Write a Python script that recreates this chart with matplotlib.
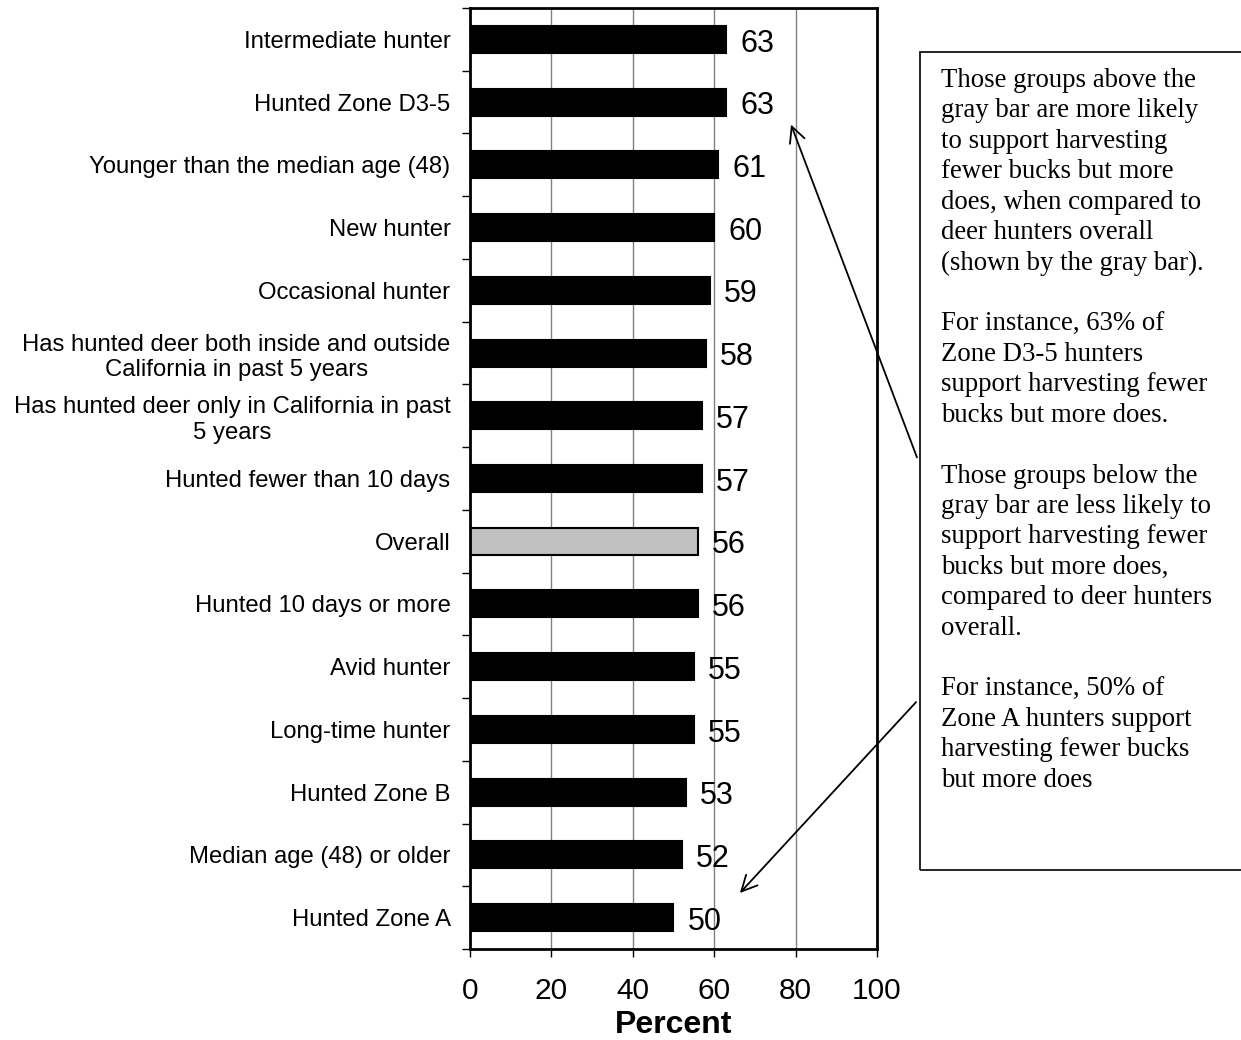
import numpy as np
import matplotlib.pyplot as plt
from matplotlib.patches import Rectangle

# data, top to bottom as in the chart
groups = ['Intermediate hunter',
          'Hunted Zone D3-5',
          'Younger than the median age (48)',
          'New hunter',
          'Occasional hunter',
          'Has hunted deer both inside and outside\nCalifornia in past 5 years',
          'Has hunted deer only in California in past\n5 years',
          'Hunted fewer than 10 days',
          'Overall',
          'Hunted 10 days or more',
          'Avid hunter',
          'Long-time hunter',
          'Hunted Zone B',
          'Median age (48) or older',
          'Hunted Zone A']
percent = [63, 63, 61, 60, 59, 58, 57, 57, 56, 56, 55, 55, 53, 52, 50]
highlight = 'Overall'
xticks = [0, 20, 40, 60, 80, 100]

note = ("Those groups above the\ngray bar are more likely\nto support harvesting\n"
        "fewer bucks but more\ndoes, when compared to\ndeer hunters overall\n"
        "(shown by the gray bar).\n\nFor instance, 63% of\nZone D3-5 hunters\n"
        "support harvesting fewer\nbucks but more does.\n\nThose groups below the\n"
        "gray bar are less likely to\nsupport harvesting fewer\nbucks but more does,\n"
        "compared to deer hunters\noverall.\n\nFor instance, 50% of\n"
        "Zone A hunters support\nharvesting fewer bucks\nbut more does")

plt.rcParams['font.family'] = ['Liberation Sans', 'DejaVu Sans']

fig = plt.figure(figsize=(12.41, 10.40), dpi=100)
ax = fig.add_axes([0.3787, 0.0875, 0.328, 0.9048])

y = np.arange(len(groups))
colors = ['#c0c0c0' if g == highlight else 'black' for g in groups]
ax.barh(y, percent, height=0.43, color=colors, edgecolor='black', linewidth=1.5, zorder=2)
for i, p in enumerate(percent):
    ax.annotate(str(p), xy=(p, i), xytext=(10, -3), textcoords='offset points',
                va='center', ha='left', fontsize=22, zorder=4)

ax.set_xlim(0, 100)
ax.set_ylim(len(groups) - 0.5, -0.5)
ax.set_xticks(xticks)
ax.set_xticklabels([str(t) for t in xticks], fontsize=21.5)
ax.set_yticks(y)
ax.set_yticklabels(groups, fontsize=17.2, multialignment='center')
ax.tick_params(axis='y', length=0, pad=14)
ax.set_yticks(np.arange(len(groups) + 1) - 0.5, minor=True)
ax.tick_params(axis='y', which='minor', length=6, width=1, color='black', direction='out')
ax.tick_params(axis='x', length=6, width=1, direction='out', pad=14)
ax.xaxis.grid(True, color='#808080', linewidth=1, zorder=1)
ax.set_axisbelow(True)
for s in ax.spines.values():
    s.set_linewidth(2)
ax.set_xlabel('Percent', fontsize=23, fontweight='bold', labelpad=4)

# annotation box on the right
fig.patches.append(Rectangle((0.7413, 0.1635), 0.30, 0.7865, transform=fig.transFigure,
                             fill=False, edgecolor='black', linewidth=1.2))
fig.text(0.7583, 0.9346, note, fontsize=19.3, family=['Liberation Serif', 'DejaVu Serif'],
         va='top', ha='left', linespacing=1.285)

fig.add_artist(plt.Annotation('', xy=(0.6366, 0.8827), xytext=(0.7397, 0.5577),
                              xycoords='figure fraction', textcoords='figure fraction',
                              arrowprops=dict(arrowstyle='->', lw=1.3, mutation_scale=28)))
fig.add_artist(plt.Annotation('', xy=(0.5947, 0.1394), xytext=(0.7397, 0.3269),
                              xycoords='figure fraction', textcoords='figure fraction',
                              arrowprops=dict(arrowstyle='->', lw=1.3, mutation_scale=28)))

fig.savefig('out.png', dpi=100)
